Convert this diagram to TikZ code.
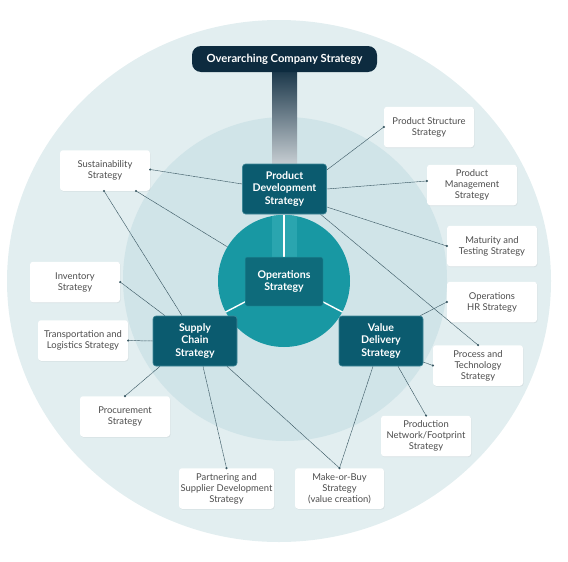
\documentclass[tikz,border=0pt]{standalone}
\usepackage{fontspec}
\setmainfont{Lato}
\usetikzlibrary{shadows,calc}
\definecolor{outerc}{HTML}{E2EEF0}
\definecolor{midc}{HTML}{D0E4E8}
\definecolor{innerc}{HTML}{1898A3}
\definecolor{bandc}{HTML}{2AA5AF}
\definecolor{opsbox}{HTML}{0E6B7B}
\definecolor{stratbox}{HTML}{0B5B6F}
\definecolor{stratborder}{HTML}{3F8797}
\definecolor{navy}{HTML}{0D2B3F}
\definecolor{txtgray}{HTML}{4D4D4D}
\definecolor{linec}{HTML}{3A5863}
\tikzset{
  x=1pt,y=-1pt,
  wbox/.style={draw=none,fill=white,rounded corners=3pt,minimum width=90pt,minimum height=40.5pt,
    inner sep=1pt,align=center,text=txtgray,font=\fontsize{9.4}{11}\selectfont,
    drop shadow={opacity=0.12,shadow xshift=0.6pt,shadow yshift=-0.8pt}},
  sbox/.style={fill=stratbox,draw=stratborder,line width=0.6pt,rounded corners=3pt,minimum width=84pt,minimum height=50pt,
    inner sep=1pt,align=center,text=white,font=\bfseries\fontsize{10.6}{12.3}\selectfont},
  conn/.style={draw=linec,line width=0.5pt,dash pattern=on 1pt off 0.4pt},
  enddot/.style={fill=linec,circle,inner sep=0pt,minimum size=2.4pt,draw=none},
}
\begin{document}
\begin{tikzpicture}
\useasboundingbox (0,0) rectangle (568,562);
% background circles
\fill[outerc] (279,281) ellipse [x radius=272pt, y radius=261pt];
\node[circle,fill=midc,minimum size=324pt,inner sep=0pt] (midcirc) at (285,279) {};

% white boxes
\node[wbox] (sust) at (105,170.5) {Sustainability\\Strategy};
\node[wbox] (inv) at (75,282) {Inventory\\Strategy};
\node[wbox] (trans) at (83,340.5) {Transportation and\\Logistics Strategy};
\node[wbox] (proc) at (125,416.5) {Procurement\\Strategy};
\node[wbox,minimum width=95pt] (partner) at (226.5,488.5) {Partnering and\\Supplier Development\\Strategy};
\node[wbox,minimum width=89pt] (make) at (339.5,488.5) {Make-or-Buy\\Strategy\\(value creation)};
\node[wbox] (prodnet) at (426,436) {Production\\Network/Footprint\\Strategy};
\node[wbox] (process) at (478,365.5) {Process and\\Technology\\Strategy};
\node[wbox] (hr) at (492,302) {Operations\\HR Strategy};
\node[wbox] (mat) at (492,246) {Maturity and\\Testing Strategy};
\node[wbox] (pm) at (472,185) {Product\\Management\\Strategy};
\node[wbox] (ps) at (429,127) {Product Structure\\Strategy};

% strategy box positions
\coordinate (pdc) at (284.5,189);
\coordinate (scc) at (195,341);
\coordinate (vdc) at (381,341);
\coordinate (opc) at (284,281.5);

% pillar
\shade[top color=navy!95!white,bottom color=navy!22!white] (272,70) rectangle (297,166);

% invisible guides with the same size as the strategy boxes
\path (pdc) node[sbox,draw=none,fill=none,text opacity=0] (pdg) {Product\\Development\\Strategy};
\path (scc) node[sbox,draw=none,fill=none,text opacity=0] (scg) {Supply\\Chain\\Strategy};
\path (vdc) node[sbox,draw=none,fill=none,text opacity=0] (vdg) {Value\\Delivery\\Strategy};

% connectors
\draw[conn] (ps.west) node[enddot]{} -- ([yshift=19pt]pdg.east);
\draw[conn] ([yshift=4pt]pm.west) node[enddot]{} -- (pdg.east);
\draw[conn] (mat.west) node[enddot]{} -- ([yshift=-18pt]pdg.east);
\draw[conn] (process.north) node[enddot]{} -- ([xshift=36pt]pdg.south);
\draw[conn] ([yshift=1pt]sust.east) node[enddot]{} -- ([yshift=5pt]pdg.west);
\draw[conn] ([xshift=31pt]sust.south) node[enddot]{} -- (opc);
\draw[conn] ([xshift=-1pt]sust.south) node[enddot]{} -- ([xshift=-13pt]scg.north);
\draw[conn] (inv.east) node[enddot]{} -- ([xshift=-30pt]scg.north);
\draw[conn] (trans.east) node[enddot]{} -- (scg.west);
\draw[conn] (proc.north) node[enddot]{} -- ([xshift=-35pt]scg.south);
\draw[conn] (partner.north) node[enddot]{} -- ([xshift=8pt]scg.south);
\draw[conn] (make.north) node[enddot]{} -- ([xshift=32pt]scg.south);
\draw[conn] (make.north) -- ([xshift=-8pt]vdg.south);
\draw[conn] (prodnet.north) node[enddot]{} -- ([xshift=17pt]vdg.south);
\draw[conn] (process.west) node[enddot]{} -- ([yshift=-21pt]vdg.east);
\draw[conn] (hr.west) node[enddot]{} -- ([xshift=-3pt]vdg.north east);

% inner circle
\node[circle,fill=innerc,minimum size=132pt,inner sep=0pt] (opsc) at (284,281) {};
\begin{scope}
  \clip (284,281) circle (66pt);
  \fill[bandc] (272,210) rectangle (297,258);
\end{scope}
\draw[white,line width=1.4pt] (opc) -- (opsc.90);
\draw[white,line width=1.4pt] (opc) -- (opsc.208);
\draw[white,line width=1.4pt] (opc) -- (opsc.332);

% operations box
\node[fill=opsbox,draw=bandc!70!opsbox,line width=0.5pt,rounded corners=2pt,minimum width=78pt,minimum height=49pt,
  inner sep=1pt,align=center,text=white,font=\bfseries\fontsize{10.6}{12.3}\selectfont] (ops) at (opc) {Operations\\Strategy};

% strategy boxes
\node[sbox] (pd) at (pdc) {Product\\Development\\Strategy};
\node[sbox] (sc) at (scc) {Supply\\Chain\\Strategy};
\node[sbox] (vd) at (vdc) {Value\\Delivery\\Strategy};

% overarching
\node[fill=navy,rounded corners=9pt,minimum width=185pt,minimum height=26pt,inner sep=1pt,text=white,
  font=\bfseries\fontsize{11.2}{12}\selectfont] (ocs) at (284.5,59) {Overarching Company Strategy};
\end{tikzpicture}
\end{document}
